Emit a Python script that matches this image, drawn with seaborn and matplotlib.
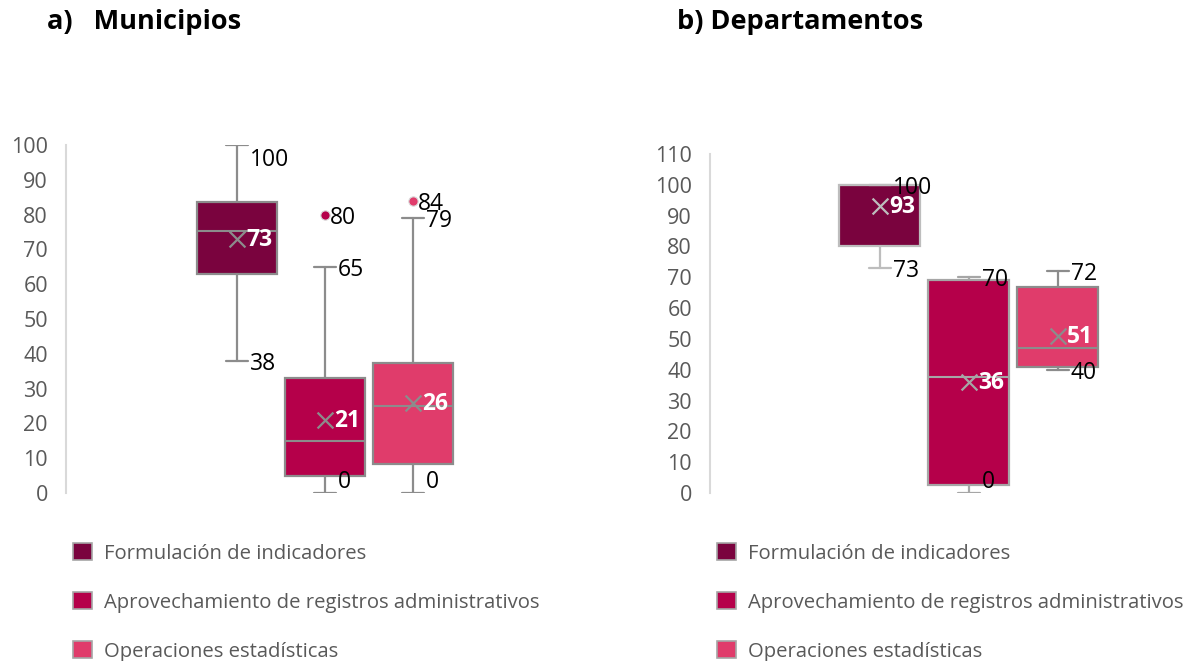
import matplotlib
matplotlib.use('Agg')
import matplotlib.pyplot as plt
import seaborn as sns
import pandas as pd
from matplotlib.patches import Patch

# series shared by both panels
series = ['Formulación de indicadores',
          'Aprovechamiento de registros administrativos',
          'Operaciones estadísticas']
colors = ['#7a033e', '#b5004a', '#e03c6b']

# a) Municipios - box statistics
mun_low = [38, 0, 0]
mun_q1 = [63, 5, 8.3]
mun_med = [75.4, 15, 25]
mun_q3 = [83.5, 33, 37.5]
mun_high = [100, 65, 79]
mun_mean = [73, 21, 26]
mun_outliers = [[], [80], [84]]

# b) Departamentos
dep_low = [73, 0, 40]
dep_q1 = [80, 2.6, 41]
dep_med = [100, 37.6, 47.2]
dep_q3 = [100, 69.2, 66.8]
dep_high = [100, 70, 72]
dep_mean = [93, 36, 51]
dep_outliers = [[], [], []]

sns.set_theme(style='white')
plt.rcParams['font.family'] = ['Open Sans', 'DejaVu Sans']

W, H = 1186, 661
fig = plt.figure(figsize=(W / 100, H / 100), dpi=100)


def px_rect(x0, x1, ytop, ybot):
    return [x0 / W, 1 - ybot / H, (x1 - x0) / W, (ybot - ytop) / H]


def draw_panel(ax, low, q1, med, q3, high, mean, outliers, ymax, ystep, edges, x_lim):
    pos = [1, 2, 3]
    stats = []
    for i in range(3):
        stats.append({'whislo': low[i], 'q1': q1[i], 'med': med[i], 'q3': q3[i],
                      'whishi': high[i], 'fliers': []})
    bp = ax.bxp(stats, positions=pos, widths=0.91, capwidths=0.25,
                patch_artist=True, showfliers=False, showmeans=False)
    for i, box in enumerate(bp['boxes']):
        box.set_facecolor(colors[i])
        box.set_edgecolor(edges[i])
        box.set_linewidth(1.6)
        bp['medians'][i].set_color(edges[i])
        bp['medians'][i].set_linewidth(1.5)
        for ln in bp['whiskers'][2 * i:2 * i + 2] + bp['caps'][2 * i:2 * i + 2]:
            ln.set_color(edges[i])
            ln.set_linewidth(1.6)

    # mean markers
    mdf = pd.DataFrame({'pos': pos, 'mean': mean, 'serie': series})
    for i in range(3):
        sns.scatterplot(data=mdf.iloc[[i]], x='pos', y='mean', marker='x', s=130,
                        color=edges[i], linewidth=1.6, ax=ax, zorder=5, legend=False)
        ax.annotate(f'{mean[i]:.0f}', (pos[i], mean[i]), xytext=(9, -1),
                    textcoords='offset pixels', ha='left', va='center',
                    color='white', fontweight='bold', fontsize=16.5, zorder=6)

    # outliers
    for i in range(3):
        if outliers[i]:
            odf = pd.DataFrame({'pos': [pos[i]] * len(outliers[i]), 'val': outliers[i]})
            sns.scatterplot(data=odf, x='pos', y='val', s=45, color=colors[i],
                            edgecolor='#d9d9d9', linewidth=0.8, ax=ax, zorder=5,
                            legend=False)
            for v in outliers[i]:
                ax.annotate(f'{v:.0f}', (pos[i], v), xytext=(5, -3),
                            textcoords='offset pixels', ha='left', va='center',
                            color='black', fontsize=16.5, zorder=6)

    # whisker end labels
    for i in range(3):
        for v in (high[i], low[i]):
            dy = -3
            if v == 0:
                dy = 11
            elif ymax - v < 5:
                dy = -15
            ax.annotate(f'{v:.0f}', (pos[i], v), xytext=(13, dy),
                        textcoords='offset pixels', ha='left', va='center',
                        color='black', fontsize=16.5, zorder=6, annotation_clip=False)

    ax.set_xlim(*x_lim)
    ax.set_ylim(0, ymax)
    ax.set_yticks(range(0, ymax + 1, ystep))
    ax.set_xticks([])
    ax.set_xlabel('')
    ax.set_ylabel('')
    ax.tick_params(axis='y', length=0, pad=13, labelsize=15.5, labelcolor='#595959')
    for s in ['top', 'right', 'bottom']:
        ax.spines[s].set_visible(False)
    ax.spines['left'].set_color('#d9d9d9')
    ax.spines['left'].set_linewidth(1.5)
    ax.set_facecolor('none')


ax1 = fig.add_axes(px_rect(66, 584, 145, 493))
draw_panel(ax1, mun_low, mun_q1, mun_med, mun_q3, mun_high, mun_mean, mun_outliers,
           100, 10, ['#8c8c8c', '#8c8c8c', '#8c8c8c'], (-0.943, 4.943))

ax2 = fig.add_axes(px_rect(710, 1176, 154, 493))
draw_panel(ax2, dep_low, dep_q1, dep_med, dep_q3, dep_high, dep_mean, dep_outliers,
           110, 10, ['#bdbdbd', '#a6a6a6', '#8c8c8c'], (-0.91, 4.33))

# titles
fig.text(47 / W, 1 - 22 / H, 'a)   Municipios', fontsize=19.5, fontweight='bold',
         ha='left', va='center', color='black')
fig.text(677 / W, 1 - 22 / H, 'b) Departamentos', fontsize=19.5, fontweight='bold',
         ha='left', va='center', color='black')

# legends
handles = [Patch(facecolor=c, edgecolor='#a6a6a6', linewidth=1.2) for c in colors]
for xl in (73, 717):
    fig.legend(handles, series, loc='upper left', bbox_to_anchor=(xl / W, 1 - 543 / H),
               frameon=False, fontsize=14.6, labelcolor='#595959', borderpad=0,
               borderaxespad=0, handlelength=0.95, handleheight=0.95,
               handletextpad=0.6, labelspacing=1.39)

fig.savefig('out.png', dpi=100)
